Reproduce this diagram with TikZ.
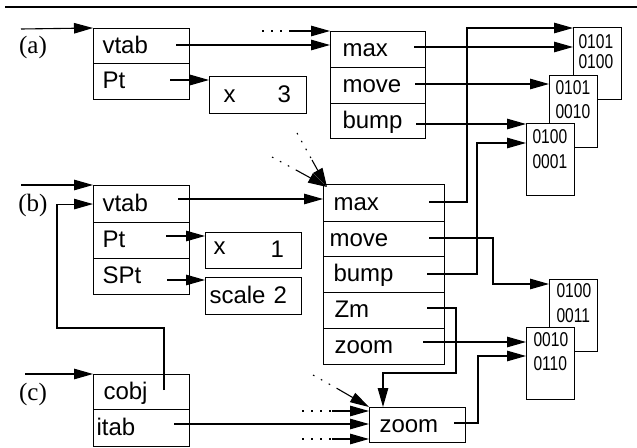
\documentclass[tikz,border=0pt]{standalone}
\usepackage{fontspec}
\setmainfont{Liberation Serif}
\setsansfont{Liberation Sans}
\newfontfamily\bitfont[FakeStretch=0.78]{Liberation Sans}
\usetikzlibrary{arrows.meta,calc}
\begin{document}
\begin{tikzpicture}[x=1pt,y=-1pt,line width=1.1pt,
  cell/.style={draw, rectangle, anchor=north west, inner ysep=0pt, align=left,
    font=\sffamily\fontsize{24}{28}\selectfont, text height=17.5pt, text depth=3.5pt},
  bitbox/.style={draw, fill=white, rectangle, anchor=north west,
    minimum width=48pt, minimum height=72pt, inner sep=0pt},
  bit/.style={anchor=base west, inner sep=0pt, font=\bitfont\fontsize{20}{22}\selectfont},
  lab/.style={font=\rmfamily\fontsize{25}{29}\selectfont, inner sep=0pt},
  arr/.style={-{Triangle[length=19pt,width=10.5pt]}},
  dots/.style={dash pattern=on 1.6pt off 7.4pt}]
\useasboundingbox (0,0) rectangle (637,447);
\draw[line width=2.2pt] (5,7) -- (637,7);

% labels
\node[lab] (la) at (33,47) {(a)};
\node[lab] (lb) at (33,205) {(b)};
\node[lab] (lc) at (33,394) {(c)};

% (a) object
\node[cell, text width=78pt, inner xsep=9pt, minimum height=35pt] (av) at (93,28) {vtab};
\node[cell, text width=78pt, inner xsep=9pt, minimum height=36pt] (ap) at (93,63) {Pt};
\node[cell, text width=69pt, inner xsep=14pt, minimum height=37pt] (ax) at (209,76) {x\hspace{42pt}3};
% (a) vtable
\node[cell, text width=71pt, inner xsep=12pt, minimum height=36pt] (am) at (330,31) {max};
\node[cell, text width=71pt, inner xsep=12pt, minimum height=36pt] (amv) at (330,67) {move};
\node[cell, text width=71pt, inner xsep=12pt, minimum height=35pt] (ab) at (330,103) {bump};

% (b) object
\node[cell, text width=78pt, inner xsep=9pt, minimum height=37pt] (bv) at (93,185) {vtab};
\node[cell, text width=78pt, inner xsep=9pt, minimum height=36pt] (bp) at (93,222) {Pt};
\node[cell, text width=78pt, inner xsep=9pt, minimum height=36pt] (bsp) at (93,258) {SPt};
\node[cell, text width=80pt, inner xsep=8pt, minimum height=36pt] (bx) at (205,232) {\raisebox{3pt}{x}\hspace{45pt}1};
\node[cell, text width=88pt, inner xsep=4pt, minimum height=37pt] (bs) at (205,277) {scale 2};
% (b) vtable
\node[cell, text width=101pt, inner xsep=10pt, minimum height=37pt] (bm) at (323,184) {max};
\node[cell, text width=109pt, inner xsep=6pt, minimum height=35pt] (bmv) at (323,221) {move};
\node[cell, text width=101pt, inner xsep=10pt, minimum height=36pt] (bb) at (323,256) {bump};
\node[cell, text width=99pt, inner xsep=11pt, minimum height=36pt] (bz) at (323,292) {Zm};
\node[cell, text width=99pt, inner xsep=11pt, minimum height=36pt] (bzo) at (323,328) {zoom};

% (c) object
\node[cell, text width=76pt, inner xsep=10pt, minimum height=35pt] (cc) at (93,374) {cobj};
\node[cell, text width=90pt, inner xsep=3pt, minimum height=37pt] (ci) at (93,409) {itab};
\node[cell, text width=76pt, inner xsep=10pt, minimum height=35pt] (cz) at (369,407) {zoom};

% code boxes
\node[bitbox] (b1) at (573,27) {};
\node[bit] (b1t) at (578,48) {0101};
\node[bit] (b1u) at (578,68) {0100};
\node[bitbox] (b2) at (549,75) {};
\node[bit] (b2t) at (555,94) {0101};
\node[bit] (b2u) at (555,118) {0010};
\node[bitbox] (b3) at (526,123) {};
\node[bit] (b3t) at (532,143) {0100};
\node[bit] (b3u) at (532,168) {0001};
\node[bitbox] (b4) at (549,279) {};
\node[bit] (b4t) at (556,297) {0100};
\node[bit] (b4u) at (556,322) {0011};
\node[bitbox] (b5) at (526,327) {};
\node[bit] (b5t) at (533,346) {0010};
\node[bit] (b5u) at (533,370) {0110};

% free ends
\coordinate (ina) at (21,29);
\coordinate (inb) at (21,185);
\coordinate (inc) at (25,374);
\coordinate (avs) at (176,45);
\coordinate (aps) at (170,80);
\coordinate (ams) at (414,47);
\coordinate (amvs) at (415,84);
\coordinate (abs) at (416,124);
\coordinate (bvs) at (178,199);
\coordinate (bps) at (166,236);
\coordinate (bsps) at (167,280);
\coordinate (bms) at (429,202);
\coordinate (bmvs) at (429,238);
\coordinate (bbs) at (427,274);
\coordinate (bzs) at (427,308);
\coordinate (bzos) at (423,342);
\coordinate (ccs) at (164,390);
\coordinate (cis) at (174,424);
\coordinate (czs) at (454,423);
\coordinate (r1) at (467,28);
\coordinate (r2) at (477,143);
\coordinate (r3) at (493,284);
\coordinate (r4) at (456,373);
\coordinate (r5) at (478,356);
\coordinate (lp) at (57,328);
\coordinate (t1a) at (262,31);
\coordinate (t1b) at (291,31);
\coordinate (d1a) at (297,133);
\coordinate (d1b) at (312,160);
\coordinate (d2a) at (272,157);
\coordinate (d2b) at (296,170);
\coordinate (d3a) at (313,375);
\coordinate (d3b) at (338,389);
\coordinate (h1a) at (302,411);
\coordinate (h1b) at (332,411);
\coordinate (h2a) at (302,439);
\coordinate (h2b) at (332,439);

% (a) connectors
\draw[arr] (ina) -- (av.north west);
\draw[arr] (avs) -- (avs -| am.west);
\draw[dots] (t1a) -- (t1b);
\draw[arr] (t1b) -- (am.north west);
\draw[arr] (aps) -- (aps -| ax.west);
\draw[arr] (ams) -- (ams -| b1.west);
\draw[arr] (amvs) -- (amvs -| b2.west);
\draw[arr] (abs) -- (abs -| b3.west);

% (b) connectors
\draw[arr] (inb) -- (bv.north west);
\draw[arr] (ccs) |- (lp) |- (bv.west);
\draw[arr] (bvs) -- (bvs -| bm.west);
\draw[dots] (d1a) -- (d1b);
\draw[arr] (d1b) -- ([shift={(4pt,-3pt)}]bm.north west);
\draw[dots] (d2a) -- (d2b);
\draw[arr] (d2b) -- ([shift={(4pt,-3pt)}]bm.north west);
\draw[arr] (bps) -- (bps -| bx.west);
\draw[arr] (bsps) -- (bsps -| bs.west);
\draw[arr] (bms) -| (r1) -- (r1 -| b1.west);
\draw[arr] (bbs) -| (r2) -- (r2 -| b3.west);
\draw[arr] (bmvs) -| (r3) -- (r3 -| b4.west);
\draw[arr] (bzos) -- (bzos -| b5.west);
\draw[arr] (bzs) -| (r4) -| ([xshift=14pt]cz.north west);

% (c) connectors
\draw[arr] (inc) -- (cc.north west);
\draw[arr] (cis) -- (cis -| cz.west);
\draw[arr] (czs) -| (r5) -- (r5 -| b5.west);
\draw[dots] (h1a) -- (h1b);
\draw[arr] (h1b) -- (h1b -| cz.west);
\draw[dots] (h2a) -- (h2b);
\draw[arr] (h2b) -- (h2b -| cz.west);
\draw[dots] (d3a) -- (d3b);
\draw[arr] (d3b) -- (cz.north west);
\end{tikzpicture}
\end{document}
